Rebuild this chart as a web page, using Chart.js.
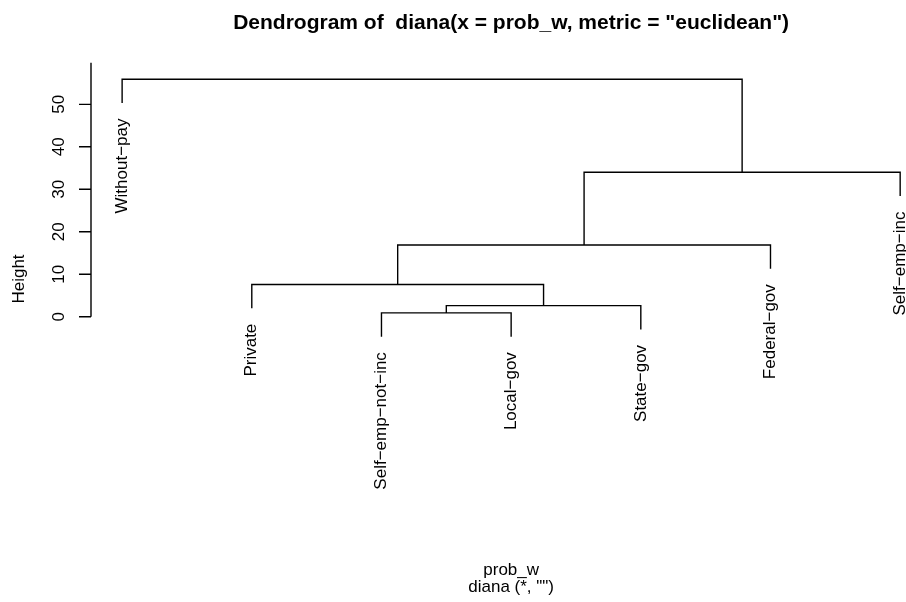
<!DOCTYPE html>
<html>
<head>
<meta charset="utf-8">
<script src="https://cdn.jsdelivr.net/npm/chart.js@4"></script>
<style>
  body { margin: 0; background: #fff; }
  canvas { display: block; }
</style>
</head>
<body>
<canvas id="dendro" width="906" height="602"></canvas>
<script>
// Leaves in plotted order (left to right)
const leafLabels = ['Without\u2212pay', 'Private', 'Self\u2212emp\u2212not\u2212inc', 'Local\u2212gov', 'State\u2212gov', 'Federal\u2212gov', 'Self\u2212emp\u2212inc'];
// R-style merge table: negative = leaf number, positive = earlier merge
const mergeLeft = [-3, 1, -2, 3, 4, -1];
const mergeRight = [-4, -5, 2, -6, -7, 5];
const mergeHeight = [0.9, 2.6, 7.6, 16.9, 34.0, 55.9];
const yTicks = [0, 10, 20, 30, 40, 50];
const HANG = 0.1;

const FONT = '"Liberation Sans", Arial, Helvetica, sans-serif';
const hang = HANG * Math.max(...mergeHeight);

// work out node positions from the merge table
const nodeX = [];
const leafBottom = [];
function childPos(c, parentH) {
    if (c < 0) {
        leafBottom[-c] = parentH - hang;
        return { x: -c, y: parentH - hang };
    }
    return { x: nodeX[c - 1], y: mergeHeight[c - 1] };
}

const datasets = [];
mergeLeft.forEach((l, i) => {
    const h = mergeHeight[i];
    const a = childPos(l, h);
    const b = childPos(mergeRight[i], h);
    nodeX[i] = (a.x + b.x) / 2;
    datasets.push({
        data: [{ x: a.x, y: a.y }, { x: a.x, y: h }, { x: b.x, y: h }, { x: b.x, y: b.y }],
        showLine: true,
        borderColor: '#000',
        borderWidth: 1.4,
        pointRadius: 0,
        tension: 0,
        fill: false
    });
});

const decorations = {
    id: 'decorations',
    afterDraw(chart) {
        const ctx = chart.ctx;
        const xs = chart.scales.x;
        const ys = chart.scales.y;
        const area = chart.chartArea;
        ctx.save();
        ctx.strokeStyle = '#000';
        ctx.fillStyle = '#000';
        ctx.lineWidth = 1.4;

        // y axis
        const ax = area.left;
        ctx.beginPath();
        ctx.moveTo(ax, ys.getPixelForValue(yTicks[0]));
        ctx.lineTo(ax, area.top);
        yTicks.forEach(t => {
            const py = ys.getPixelForValue(t);
            ctx.moveTo(ax, py);
            ctx.lineTo(ax - 12, py);
        });
        ctx.stroke();

        ctx.font = '17px ' + FONT;
        ctx.textAlign = 'center';
        ctx.textBaseline = 'middle';
        yTicks.forEach(t => {
            ctx.save();
            ctx.translate(ax - 32, ys.getPixelForValue(t));
            ctx.rotate(-Math.PI / 2);
            ctx.fillText(String(t), 0, 0);
            ctx.restore();
        });

        // leaf labels
        ctx.textAlign = 'right';
        leafLabels.forEach((lab, i) => {
            ctx.save();
            ctx.translate(xs.getPixelForValue(i + 1), ys.getPixelForValue(leafBottom[i + 1]) + 15.5);
            ctx.rotate(-Math.PI / 2);
            ctx.fillText(lab, 0, 0);
            ctx.restore();
        });

        // axis titles
        ctx.textAlign = 'center';
        ctx.save();
        ctx.translate(19, 279);
        ctx.rotate(-Math.PI / 2);
        ctx.fillText('Height', 0, 0);
        ctx.restore();

        const cx = xs.getPixelForValue((xs.min + 7.24) / 2);
        ctx.textBaseline = 'alphabetic';
        ctx.fillText('prob_w', cx, 575);
        ctx.fillText('diana (*, "")', cx, 592);

        ctx.font = 'bold 21px ' + FONT;
        ctx.fillText('Dendrogram of  diana(x = prob_w, metric = "euclidean")', cx, 29);
        ctx.restore();
    }
};

new Chart(document.getElementById('dendro'), {
    type: 'scatter',
    data: { datasets },
    options: {
        responsive: false,
        devicePixelRatio: 1,
        animation: false,
        layout: { padding: { left: 91, right: 0, top: 62.7, bottom: 251.3 } },
        plugins: { legend: { display: false }, tooltip: { enabled: false }, title: { display: false } },
        scales: {
            x: { type: 'linear', min: 0.76, max: 7.045, display: false },
            y: { type: 'linear', min: -8, max: 59.8, display: false }
        }
    },
    plugins: [decorations]
});
</script>
</body>
</html>
